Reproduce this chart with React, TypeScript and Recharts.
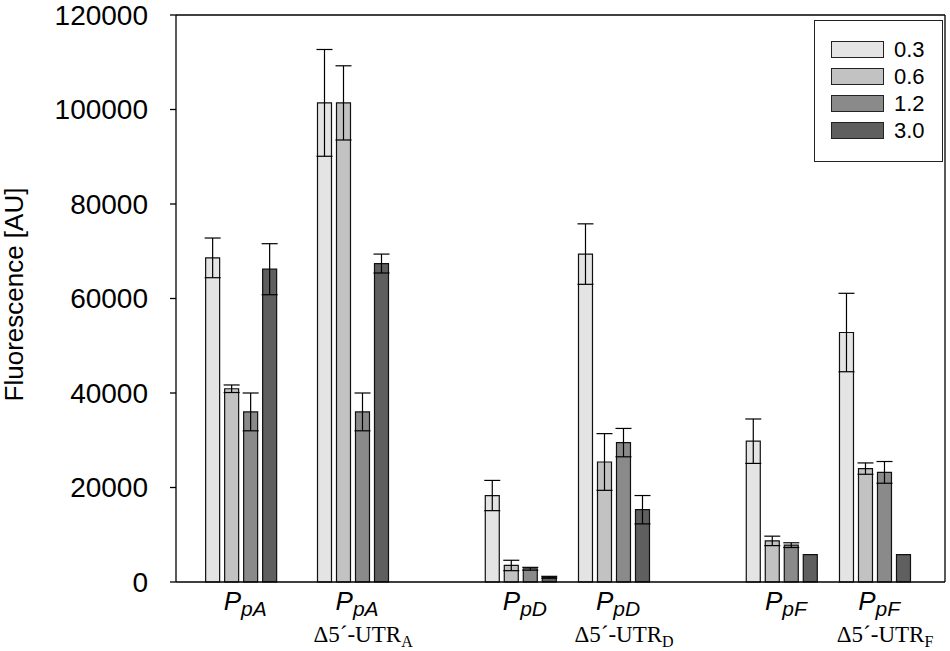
import { BarChart, Bar, XAxis, YAxis, ErrorBar, ReferenceLine } from 'recharts';

// group positions on the x axis (pairs sit closer together)
const groupPos = [0.7, 1.9, 3.7, 4.7, 6.5, 7.5];
const promoter = ['pA', 'pA', 'pD', 'pD', 'pF', 'pF'];
const deletion = ['', 'A', '', 'D', '', 'F'];

const concentrations = ['0.3', '0.6', '1.2', '3.0'];
const colors = ['#e4e4e4', '#c2c2c2', '#8a8a8a', '#5f5f5f'];

const v03 = [68600, 101400, 18300, 69400, 29800, 52800];
const e03 = [4200, 11300, 3200, 6400, 4700, 8300];
const v06 = [40900, 101400, 3500, 25400, 8700, 24000];
const e06 = [800, 7850, 1100, 6000, 1000, 1200];
const v12 = [36000, 36000, 2800, 29500, 7800, 23200];
const e12 = [4000, 4000, 300, 3000, 500, 2300];
const v30 = [66200, 67400, 1000, 15300, 5800, 5800];
const e30 = [5400, 2000, 200, 3000, 0, 0];

const yTicks = [0, 20000, 40000, 60000, 80000, 100000, 120000];

const data = groupPos.map((x, i) => ({
  x,
  v03: v03[i], e03: e03[i],
  v06: v06[i], e06: e06[i],
  v12: v12[i], e12: e12[i],
  v30: v30[i], e30: e30[i],
}));

const series = [
  { key: 'v03', err: 'e03' },
  { key: 'v06', err: 'e06' },
  { key: 'v12', err: 'e12' },
  { key: 'v30', err: 'e30' },
];

const sans = '"Liberation Sans", Arial, sans-serif';
const serif = '"Liberation Serif", "Times New Roman", serif';

const GroupTick = (props: any) => {
  const { x, y, payload } = props;
  const i = groupPos.indexOf(payload.value);
  return (
    <g>
      <text x={x + 4} y={y + 28} textAnchor='middle' fontFamily={sans} fontStyle='italic' fill='#000'>
        <tspan fontSize={26}>P</tspan>
        <tspan fontSize={21} dy={6}>{promoter[i]}</tspan>
      </text>
      {deletion[i] && (
        <text x={x + 10} y={y + 60} textAnchor='middle' fontFamily={serif} fontSize={23} fill='#000'>
          Δ5´-UTR
          <tspan fontSize={16} dy={5}>{deletion[i]}</tspan>
        </text>
      )}
    </g>
  );
};

// legend box drawn on top of the chart, top right inside the frame
const LegendBox = () => (
  <div
    style={{
      position: 'absolute',
      left: 814,
      top: 20,
      border: '1.5px solid #222',
      width: 129,
      height: 142,
      boxSizing: 'border-box',
      paddingTop: 15,
      paddingLeft: 16,
      background: '#fff',
    }}
  >
    {concentrations.map((c, i) => (
      <div key={c} style={{ display: 'flex', alignItems: 'center', height: 27 }}>
        <div style={{ width: 51, height: 15, background: colors[i], border: '1px solid #222' }} />
        <span style={{ marginLeft: 10, fontFamily: sans, fontSize: 22, color: '#000' }}>{c}</span>
      </div>
    ))}
  </div>
);

const YLabel = (props: any) => {
  const { viewBox } = props;
  const cx = viewBox.x + 14;
  const cy = viewBox.y + viewBox.height / 2 - 4;
  return (
    <text x={cx} y={cy} transform={`rotate(-90 ${cx} ${cy})`} textAnchor='middle' dominantBaseline='central'
      fontFamily={sans} fontSize={26} fill='#000'>
      Fluorescence [AU]
    </text>
  );
};

const App = () => {
  return (
    <div style={{ position: 'absolute', left: 0, top: 0, width: 950, height: 651 }}>
      <BarChart
        width={950}
        height={651}
        data={data}
        margin={{ top: 15, right: 5, left: 0, bottom: 0 }}
        barSize={14}
        barGap={5}
      >
        <XAxis
          dataKey='x'
          type='number'
          domain={[0, 8.25]}
          ticks={groupPos}
          interval={0}
          tickLine={false}
          tickSize={0}
          tickMargin={0}
          height={69}
          axisLine={{ stroke: '#000', strokeWidth: 1.3 }}
          tick={<GroupTick />}
        />
        <YAxis
          width={176}
          domain={[0, 120000]}
          ticks={yTicks}
          interval={0}
          tickSize={6}
          tickMargin={22}
          axisLine={{ stroke: '#000', strokeWidth: 1.3 }}
          tickLine={{ stroke: '#000', strokeWidth: 1.3 }}
          tick={{ fontSize: 28, fontFamily: sans, fill: '#000' }}
          label={<YLabel />}
        />
        <ReferenceLine y={120000} stroke='#000' strokeWidth={1.3} />
        <ReferenceLine x={8.25} stroke='#000' strokeWidth={1.3} />
        {series.map((s, i) => (
          <Bar
            key={s.key}
            dataKey={s.key}
            name={concentrations[i]}
            fill={colors[i]}
            stroke='#111'
            strokeWidth={1.2}
            isAnimationActive={false}
          >
            <ErrorBar dataKey={s.err} width={8} stroke='#000' strokeWidth={1.2} direction='y' isAnimationActive={false} />
          </Bar>
        ))}
      </BarChart>
      <LegendBox />
    </div>
  );
};

export default App;
